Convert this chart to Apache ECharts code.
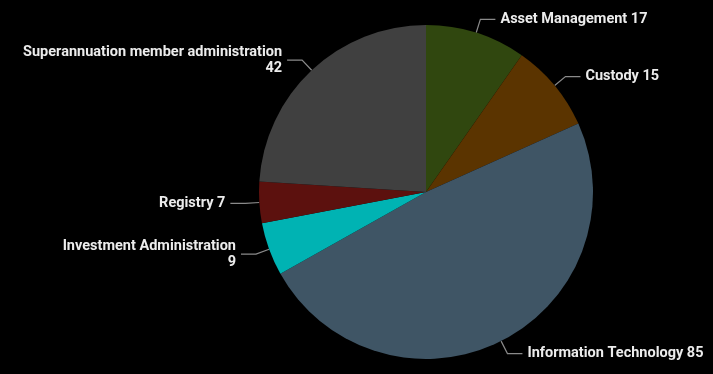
<!DOCTYPE html>
<html><head><meta charset="utf-8">
<script src="https://cdn.jsdelivr.net/npm/echarts@6/dist/echarts.min.js"></script>
<style>html,body{margin:0;padding:0;background:#000;}#c{width:713px;height:374px;}</style>
</head><body><div id="c"></div>
<script>
const categories = ["Asset Management","Custody","Information Technology","Investment Administration","Registry","Superannuation member administration"];
const values = [17,15,85,9,7,42];
const colors = ["#30470f","#5b3400","#3f5565","#00b3b3","#5c110e","#404040"];
const wrapped = ["Investment Administration","Superannuation member administration"];
const chart = echarts.init(document.getElementById('c'));
chart.setOption({
  backgroundColor:'#000',
  animation:false,
  series:[{
    type:'pie',
    center:[426,192],
    radius:167,
    startAngle:90,
    clockwise:true,
    data: categories.map((n,i)=>({name:n,value:values[i],itemStyle:{color:colors[i]}})),
    label:{
      color:'#ececec',fontFamily:'Roboto',fontWeight:'bold',fontSize:14.5,lineHeight:16,
      overflow:'none',
      formatter:p=> wrapped.includes(p.name) ? p.name+'\n'+p.value : p.name+' '+p.value
    },
    labelLine:{length:14,length2:15,lineStyle:{color:'#8a8a8a',width:1.2}},
    emphasis:{disabled:true}
  }]
});
</script></body></html>
